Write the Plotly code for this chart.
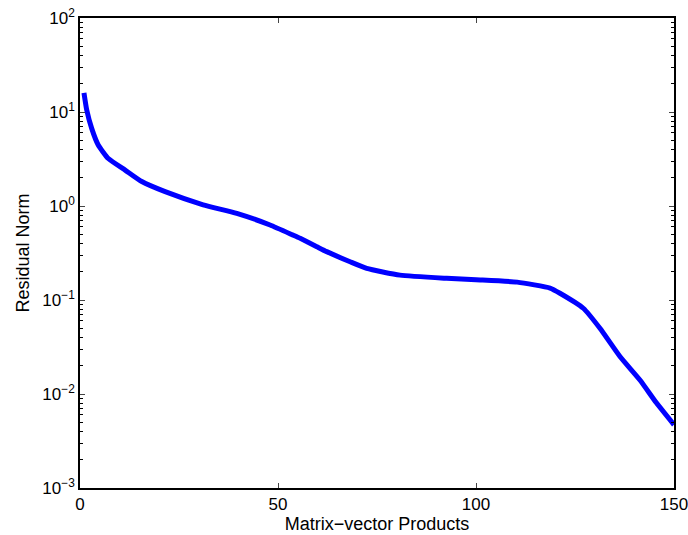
import plotly.graph_objects as go

# Residual norm history against number of matrix-vector products
products = [1, 1.7, 2.95, 4.6, 7.15, 11.4, 15.6, 21.5, 31.1, 39.6, 48, 53.8,
            55.6, 59.8, 62.3, 68.2, 72.4, 80.8, 92.6, 100, 110.4, 118.7,
            121.2, 127.1, 131.3, 136.4, 141.4, 145.6, 150]
residual = [16.0, 10.5, 6.7, 4.46, 3.2, 2.41, 1.82, 1.42, 1.03, 0.835, 0.628,
            0.49, 0.453, 0.369, 0.327, 0.255, 0.217, 0.184, 0.170, 0.164,
            0.155, 0.134, 0.118, 0.0817, 0.050, 0.0249, 0.0141, 0.0080, 0.0047]

y_major = [1e-3, 1e-2, 1e-1, 1e0, 1e1, 1e2]
y_labels = ["10<sup>−3</sup>", "10<sup>−2</sup>", "10<sup>−1</sup>",
            "10<sup>0</sup>", "10<sup>1</sup>", "10<sup>2</sup>"]
y_minor = [m * 10 ** e for e in range(-3, 2) for m in range(2, 10)]
x_ticks = [0, 50, 100, 150]

fig = go.Figure()
fig.add_trace(go.Scatter(
    x=products, y=residual, mode="lines",
    line=dict(color="#0000FF", width=5, shape="spline", smoothing=0.5),
    showlegend=False,
))

family = "Liberation Sans, Arial, sans-serif"
tick_font = dict(family=family, size=17, color="black")
title_font = dict(family=family, size=18, color="black")

fig.update_layout(
    width=688, height=535,
    margin=dict(l=80, r=14, t=18, b=47),
    paper_bgcolor="white", plot_bgcolor="white",
    font=title_font,
)
fig.update_xaxes(
    range=[0, 150], tickvals=x_ticks, ticks="inside", ticklen=5,
    tickfont=tick_font, automargin=False, ticklabeloverflow="allow",
    showline=True, linecolor="black", linewidth=1.5, mirror="ticks",
    showgrid=False, zeroline=False,
    title=dict(text="Matrix−vector Products", font=title_font, standoff=4),
)
fig.update_yaxes(
    type="log", range=[-3, 2], tickvals=y_major, ticktext=y_labels,
    ticks="inside", ticklen=5, tickfont=tick_font, automargin=False,
    ticklabeloverflow="allow",
    minor=dict(tickmode="array", tickvals=y_minor, ticks="inside", ticklen=3,
               showgrid=False, tickcolor="black"),
    showline=True, linecolor="black", linewidth=1.5, mirror="ticks",
    showgrid=False, zeroline=False,
    title=dict(text="Residual Norm", font=title_font, standoff=8),
)

fig.write_html("out.html")
